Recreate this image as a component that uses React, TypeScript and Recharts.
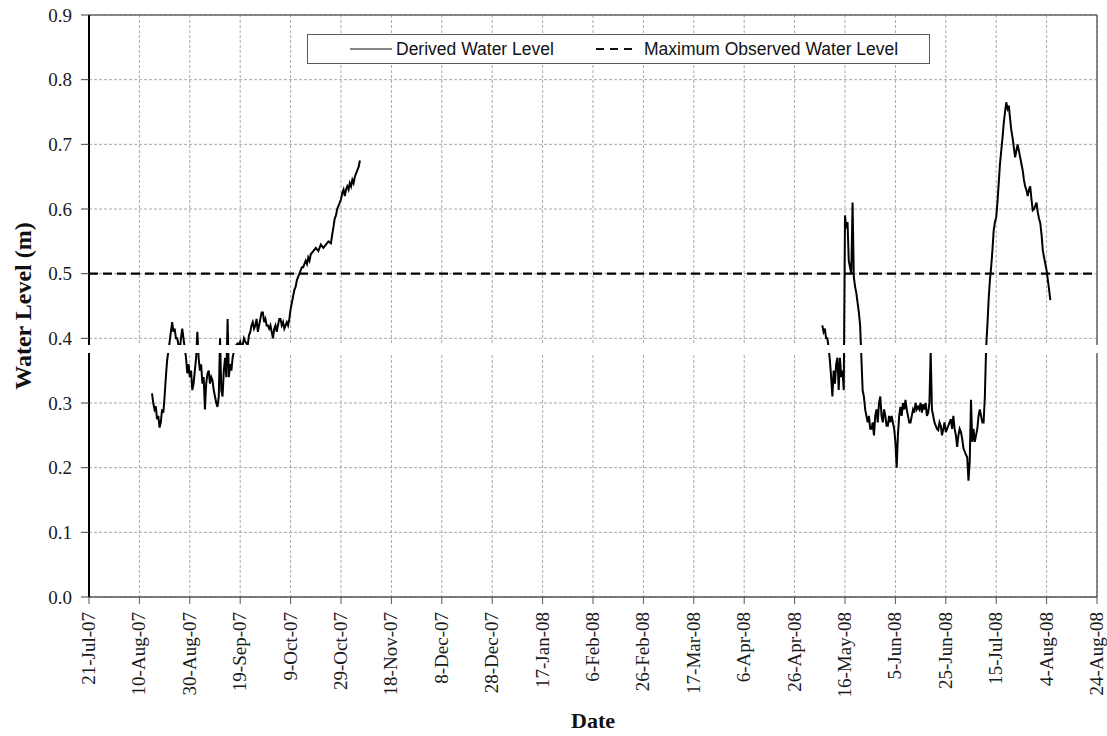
import React from 'react';
import { LineChart, Line, XAxis, YAxis, CartesianGrid, ReferenceLine } from 'recharts';

// Days counted from 21-Jul-07
const tickDays = [0, 20, 40, 60, 80, 100, 120, 140, 160, 180, 200, 220, 240, 260, 280, 300, 320, 340, 360, 380, 400];
const tickLabels = ['21-Jul-07', '10-Aug-07', '30-Aug-07', '19-Sep-07', '9-Oct-07', '29-Oct-07', '18-Nov-07', '8-Dec-07', '28-Dec-07', '17-Jan-08', '6-Feb-08', '26-Feb-08', '17-Mar-08', '6-Apr-08', '26-Apr-08', '16-May-08', '5-Jun-08', '25-Jun-08', '15-Jul-08', '4-Aug-08', '24-Aug-08'];
const yTicks = [0, 0.1, 0.2, 0.3, 0.4, 0.5, 0.6, 0.7, 0.8, 0.9];

const seg1Days = [25, 25.5, 26, 26.5, 27, 27.5, 28, 28.5, 29, 29.5, 30, 30.5, 31, 31.5, 32, 32.5, 33, 33.5, 34, 34.5, 35, 35.5, 36, 36.5, 37, 37.5, 38, 38.5, 39, 39.5, 40, 40.5, 41, 41.5, 42, 42.5, 43, 43.5, 44, 44.5, 45, 45.5, 46, 46.5, 47, 47.5, 48, 48.5, 49, 49.5, 50, 50.5, 51, 51.5, 52, 52.5, 53, 53.5, 54, 54.5, 55, 55.5, 56, 56.5, 57, 57.5, 58, 58.5, 59, 59.5, 60, 60.5, 61, 61.5, 62, 62.5, 63, 63.5, 64, 64.5, 65, 65.5, 66, 66.5, 67, 67.5, 68, 68.5, 69, 69.5, 70, 70.5, 71, 71.5, 72, 72.5, 73, 73.5, 74, 74.5, 75, 75.5, 76, 76.5, 77, 77.5, 78, 78.5, 79, 79.5, 80, 80.5, 81, 81.5, 82, 82.5, 83, 83.5, 84, 84.5, 85, 85.5, 86, 86.5, 87, 87.5, 88, 89, 90, 91, 92, 93, 94, 95, 96, 96.5, 97, 97.5, 98, 98.5, 99, 99.5, 100, 100.5, 101, 101.5, 102, 102.5, 103, 103.5, 104, 104.5, 105, 105.5, 106, 106.5, 107, 107.5];
const seg1Levels = [0.315, 0.30, 0.29, 0.295, 0.275, 0.28, 0.262, 0.27, 0.29, 0.285, 0.31, 0.34, 0.366, 0.38, 0.395, 0.41, 0.425, 0.41, 0.415, 0.40, 0.40, 0.39, 0.38, 0.40, 0.415, 0.40, 0.385, 0.37, 0.346, 0.36, 0.34, 0.35, 0.32, 0.33, 0.35, 0.37, 0.41, 0.37, 0.35, 0.36, 0.33, 0.34, 0.29, 0.33, 0.345, 0.35, 0.33, 0.34, 0.335, 0.32, 0.31, 0.30, 0.294, 0.31, 0.40, 0.32, 0.31, 0.35, 0.37, 0.34, 0.43, 0.34, 0.36, 0.35, 0.37, 0.38, 0.385, 0.39, 0.392, 0.39, 0.395, 0.388, 0.39, 0.40, 0.395, 0.392, 0.39, 0.405, 0.41, 0.42, 0.425, 0.415, 0.42, 0.43, 0.41, 0.42, 0.43, 0.44, 0.44, 0.425, 0.43, 0.42, 0.42, 0.415, 0.42, 0.41, 0.40, 0.415, 0.42, 0.41, 0.42, 0.43, 0.43, 0.42, 0.425, 0.415, 0.42, 0.425, 0.42, 0.43, 0.445, 0.455, 0.465, 0.475, 0.48, 0.49, 0.495, 0.50, 0.505, 0.51, 0.51, 0.515, 0.52, 0.515, 0.525, 0.52, 0.53, 0.535, 0.54, 0.535, 0.545, 0.54, 0.545, 0.55, 0.547, 0.56, 0.572, 0.585, 0.59, 0.60, 0.605, 0.61, 0.615, 0.625, 0.63, 0.62, 0.63, 0.635, 0.63, 0.64, 0.635, 0.645, 0.64, 0.65, 0.655, 0.66, 0.665, 0.675];

const seg2Days = [291, 291.5, 292, 292.5, 293, 293.5, 294, 294.5, 295, 295.5, 296, 296.5, 297, 297.5, 298, 298.5, 299, 299.5, 300, 300.5, 301, 301.5, 302, 302.5, 303, 303.5, 304, 304.5, 305, 305.5, 306, 306.5, 307, 307.5, 308, 308.5, 309, 309.5, 310, 310.5, 311, 311.5, 312, 312.5, 313, 313.5, 314, 314.5, 315, 315.5, 316, 316.5, 317, 317.5, 318, 318.5, 319, 319.5, 320, 320.5, 321, 321.5, 322, 322.5, 323, 323.5, 324, 324.5, 325, 325.5, 326, 326.5, 327, 327.5, 328, 328.5, 329, 329.5, 330, 330.5, 331, 331.5, 332, 332.5, 333, 333.5, 334, 334.5, 335, 335.5, 336, 336.5, 337, 337.5, 338, 338.5, 339, 339.5, 340, 340.5, 341, 341.5, 342, 342.5, 343, 343.5, 344, 344.5, 345, 345.5, 346, 346.5, 347, 347.5, 348, 348.5, 349, 349.5, 350, 350.5, 351, 351.5, 352, 352.5, 353, 353.5, 354, 354.5, 355, 355.5, 356, 356.5, 357, 357.5, 358, 358.5, 359, 359.5, 360, 360.5, 361, 361.5, 362, 362.5, 363, 363.5, 364, 364.5, 365, 365.5, 366, 366.5, 367, 367.5, 368, 368.5, 369, 369.5, 370, 370.5, 371, 371.5, 372, 372.5, 373, 373.5, 374, 374.5, 375, 375.5, 376, 376.5, 377, 377.5, 378, 378.5, 379, 379.5, 380, 380.5, 381, 381.5];
const seg2Levels = [0.42, 0.41, 0.415, 0.40, 0.40, 0.385, 0.366, 0.34, 0.31, 0.35, 0.33, 0.36, 0.37, 0.32, 0.37, 0.34, 0.35, 0.32, 0.59, 0.57, 0.58, 0.52, 0.51, 0.50, 0.61, 0.495, 0.48, 0.47, 0.455, 0.44, 0.42, 0.37, 0.32, 0.31, 0.29, 0.28, 0.27, 0.28, 0.26, 0.26, 0.27, 0.25, 0.28, 0.29, 0.27, 0.30, 0.31, 0.28, 0.27, 0.29, 0.28, 0.265, 0.265, 0.28, 0.27, 0.28, 0.27, 0.26, 0.24, 0.20, 0.25, 0.28, 0.294, 0.28, 0.30, 0.29, 0.305, 0.29, 0.28, 0.27, 0.27, 0.28, 0.29, 0.285, 0.30, 0.29, 0.294, 0.29, 0.30, 0.285, 0.298, 0.29, 0.30, 0.28, 0.285, 0.30, 0.38, 0.29, 0.28, 0.27, 0.265, 0.26, 0.258, 0.27, 0.265, 0.25, 0.26, 0.27, 0.255, 0.26, 0.265, 0.27, 0.275, 0.26, 0.28, 0.26, 0.25, 0.232, 0.25, 0.26, 0.255, 0.245, 0.23, 0.225, 0.22, 0.216, 0.18, 0.21, 0.305, 0.24, 0.26, 0.24, 0.25, 0.26, 0.28, 0.29, 0.28, 0.27, 0.27, 0.31, 0.386, 0.42, 0.46, 0.49, 0.51, 0.536, 0.567, 0.58, 0.587, 0.61, 0.64, 0.67, 0.69, 0.71, 0.733, 0.75, 0.765, 0.755, 0.76, 0.74, 0.722, 0.71, 0.695, 0.68, 0.69, 0.70, 0.69, 0.68, 0.67, 0.66, 0.645, 0.635, 0.629, 0.62, 0.63, 0.635, 0.615, 0.598, 0.60, 0.605, 0.61, 0.595, 0.585, 0.578, 0.56, 0.536, 0.525, 0.515, 0.505, 0.49, 0.475, 0.459];

const maxObservedLevel = 0.5;
// white scan-artifact band across the plot (in data units)
const stripBand = [0.377, 0.389];

const data = [
  ...seg1Days.map((d, i) => ({ day: d, level: seg1Levels[i] })),
  { day: 200, level: null },
  ...seg2Days.map((d, i) => ({ day: d, level: seg2Levels[i] })),
];

const CHART_W = 1107;
const CHART_H = 736;
const M_TOP = 15;
const M_RIGHT = 10;
const Y_AXIS_W = 89;
const X_AXIS_H = 139;
const Y_MAX = 0.9;
const plotTop = M_TOP;
const plotH = CHART_H - M_TOP - X_AXIS_H;
const plotLeft = Y_AXIS_W;
const plotW = CHART_W - Y_AXIS_W - M_RIGHT;
const yToPx = (v: number) => plotTop + (1 - v / Y_MAX) * plotH;

const serif = '"Liberation Serif", "Times New Roman", serif';
const sans = '"Liberation Sans", Arial, sans-serif';

const XTick = (props: any) => {
  const { x, y, payload } = props;
  const idx = tickDays.indexOf(payload.value);
  return (
    <g transform={`translate(${x},${y})`}>
      <text transform="rotate(-90)" x={-6} y={6} textAnchor="end" fontFamily={serif} fontSize={19} fill="#1a1a1a">
        {tickLabels[idx]}
      </text>
    </g>
  );
};

const LegendBox = () => (
  <div style={{ position: 'absolute', left: 307, top: 34, width: 621, height: 28, border: '1px solid #5a5a5a', background: '#fff' }}>
    <svg width={621} height={28} style={{ position: 'absolute', left: 0, top: 0 }}>
      <line x1={42} x2={84} y1={14} y2={14} stroke="#111" strokeWidth={1.2} />
      <text x={88} y={20} fontFamily={sans} fontSize={17.5} fill="#111">Derived Water Level</text>
      <line x1={288} x2={324} y1={14} y2={14} stroke="#111" strokeWidth={2} strokeDasharray="8 6" />
      <text x={336} y={20} fontFamily={sans} fontSize={17.5} fill="#111">Maximum Observed Water Level</text>
    </svg>
  </div>
);

export default function App() {
  const stripTop = yToPx(stripBand[1]);
  const stripBottom = yToPx(stripBand[0]);
  return (
    <div style={{ position: 'absolute', left: 0, top: 0, width: CHART_W, height: CHART_H, background: '#fff' }}>
      <LineChart width={CHART_W} height={CHART_H} data={data} margin={{ top: M_TOP, right: M_RIGHT, left: 0, bottom: 0 }}>
        <CartesianGrid stroke="#a8a8a8" strokeDasharray="3 2" />
        <XAxis
          dataKey="day"
          type="number"
          domain={[0, 400]}
          ticks={tickDays}
          interval={0}
          height={X_AXIS_H}
          tickSize={7}
          tick={<XTick />}
          axisLine={{ stroke: '#555', strokeWidth: 1.5 }}
          tickLine={{ stroke: '#555' }}
          label={{ value: 'Date', position: 'insideBottom', offset: 8, style: { fontFamily: serif, fontSize: 22, fontWeight: 'bold', fill: '#111' } }}
        />
        <YAxis
          type="number"
          domain={[0, Y_MAX]}
          ticks={yTicks}
          interval={0}
          width={Y_AXIS_W}
          tickSize={8}
          tickMargin={9}
          tickFormatter={(v: number) => v.toFixed(1)}
          tick={{ fontFamily: serif, fontSize: 19, fill: '#1a1a1a' }}
          axisLine={{ stroke: '#000', strokeWidth: 2 }}
          tickLine={{ stroke: '#444' }}
          label={{ value: 'Water Level (m)', angle: -90, position: 'insideLeft', offset: 22, style: { textAnchor: 'middle', fontFamily: serif, fontSize: 24, fontWeight: 'bold', fill: '#111' } }}
        />
        <ReferenceLine y={0.9} stroke="#666" strokeWidth={1.5} />
        <ReferenceLine x={400} stroke="#666" strokeWidth={1.5} />
        <ReferenceLine y={maxObservedLevel} stroke="#000" strokeWidth={2.2} strokeDasharray="9 5" />
        <Line type="linear" dataKey="level" stroke="#000" strokeWidth={2} dot={false} isAnimationActive={false} connectNulls={false} legendType="none" />
      </LineChart>
      <div style={{ position: 'absolute', left: plotLeft - 1, top: stripTop, width: plotW + 3, height: stripBottom - stripTop, background: '#fff' }} />
      <LegendBox />
    </div>
  );
}
